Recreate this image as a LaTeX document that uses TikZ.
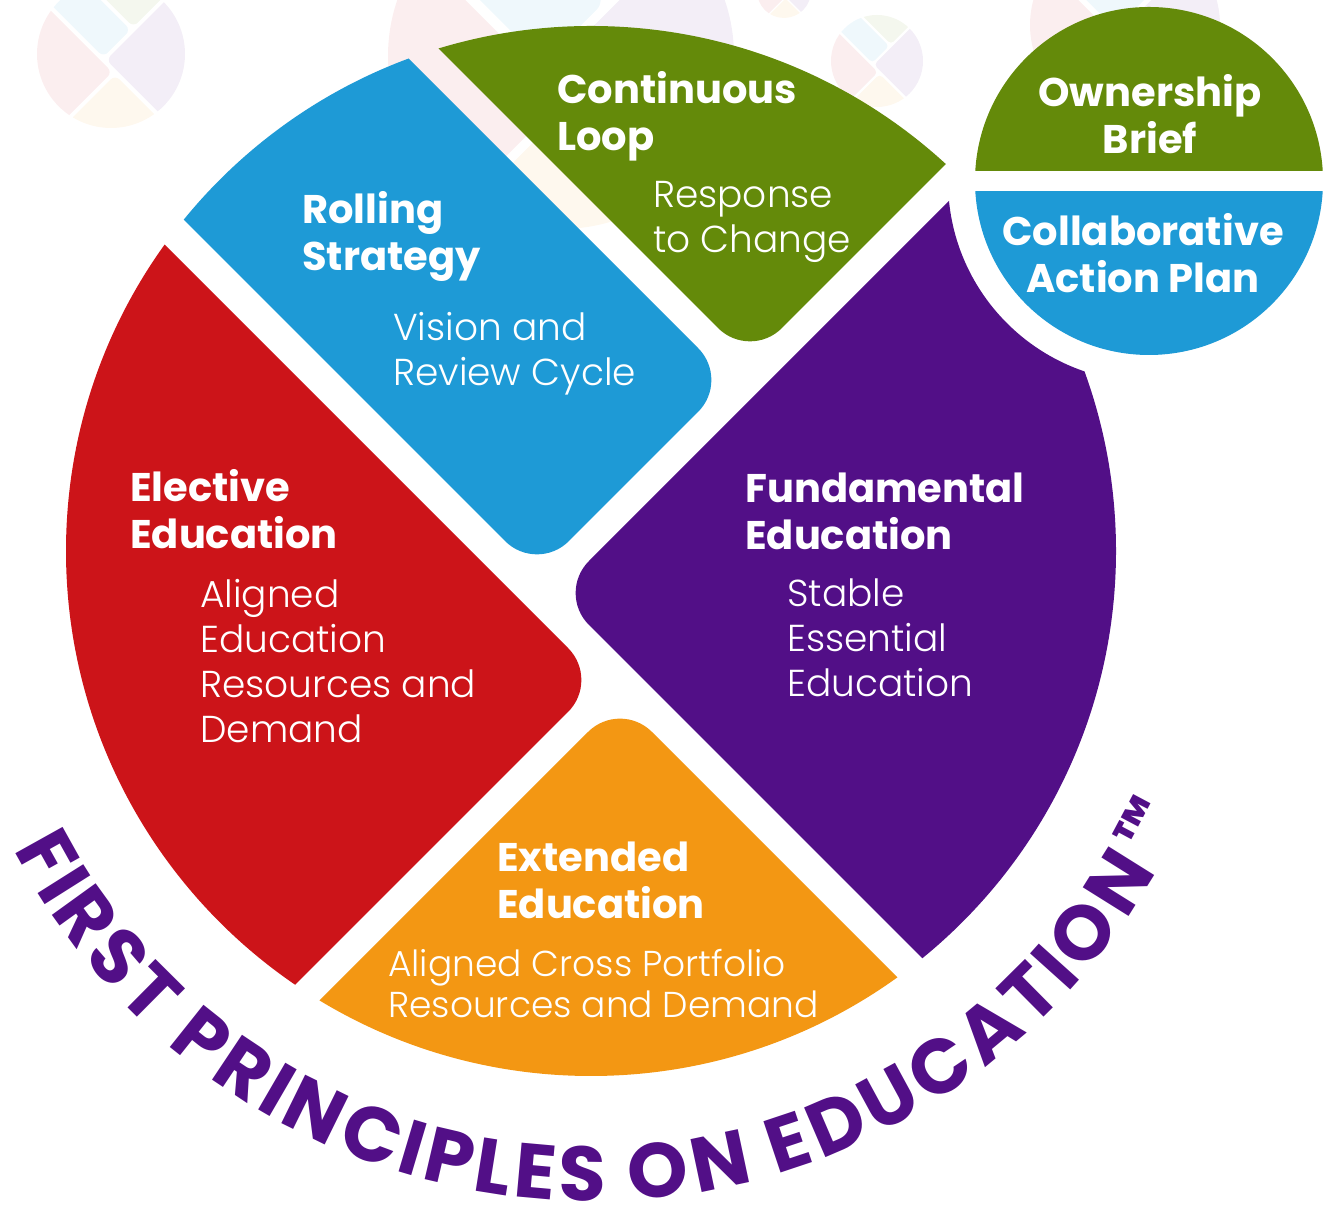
\documentclass[tikz,border=0pt]{standalone}
\usepackage{fontspec}
\setmainfont{Poppins}
\IfFontExistsTF{Poppins Light}{\newfontfamily\lightfont{Poppins Light}}{\newfontfamily\lightfont{Poppins}}
\usetikzlibrary{decorations.text}

\definecolor{electRed}{HTML}{CC1419}
\definecolor{rollBlue}{HTML}{1E9AD6}
\definecolor{loopGreen}{HTML}{648A0A}
\definecolor{fundPurple}{HTML}{520F87}
\definecolor{extOrange}{HTML}{F39713}

\newcommand\ringfont{\bfseries\fontsize{77}{77}\selectfont}

% the five pieces of the wheel, centre at (0,0), radius 525
\newcommand\wheel[1]{%
  \begin{scope}[rounded corners=#1]
    \clip (0,0) circle (525);
    \fill[electRed] (-991,871) -- (9,-129) -- (-991,-1129) -- (-1991,-129) -- cycle;
    \fill[extOrange] (-971,-1149) -- (29,-149) -- (1029,-1149) -- (29,-2149) -- cycle;
    \fill[fundPurple] (966,958) -- (-34,-42) -- (966,-1042) -- (1966,-42) -- cycle;
    \fill[rollBlue] (-1054,978) -- (-54,-22) -- (139,171) -- (-861,1171) -- cycle;
    \fill[loopGreen] (-841,1191) -- (159,191) -- (1159,1191) -- (159,2191) -- cycle;
  \end{scope}}

\begin{document}
\begin{tikzpicture}
[x=1pt,y=1pt,%
  head/.style={font=\bfseries\fontsize{40}{47}\selectfont,text=white,align=left,inner sep=0pt,anchor=west},%
  sub/.style={font=\lightfont\fontsize{37.5}{45}\selectfont,text=white,align=left,inner sep=0pt,anchor=west}]
\useasboundingbox (0,0) rectangle (1333,1206);
\coordinate (hub) at (591,655);
%%
\foreach \cx/\cy/\r in {111/1152/74, 561/1150/173, 877/1145/46, 784/1215/27, 1125/1181/95}
{
  \pgfmathsetmacro\s{\r/525}
  \pgfmathsetmacro\rc{45*\r/525}
  \begin{scope}[shift={(\cx,\cy)},scale=\s,opacity=0.07]
    \wheel{\rc pt}
  \end{scope}
}
%%
\begin{scope}[shift={(hub)},even odd rule]
  \clip (-700,-700) rectangle (1000,1000) (558,370) circle (201);
  \wheel{45pt}
\end{scope}
%%
\begin{scope}
  \clip (1149,1025) circle (174);
  \fill[loopGreen] (960,1035) rectangle (1340,1210);
  \fill[rollBlue] (960,1015) rectangle (1340,840);
\end{scope}
%%
\node[head] (rollT) at (302,970) {Rolling\\Strategy};
\node[sub] (rollS) at (393,852) {Vision and\\Review Cycle};
\node[head] (loopT) at (557,1090) {Continuous\\Loop};
\node[sub] (loopS) at (653,984) {Response\\to Change};
\node[head] (electT) at (130,697) {Elective\\Education};
\node[sub] (electS) at (200,545) {Aligned\\Education\\Resources and\\Demand};
\node[head] (fundT) at (745,695) {Fundamental\\Education};
\node[sub] (fundS) at (787,568) {Stable\\Essential\\Education};
\node[head] (extT) at (497,326) {Extended\\Education};
\node[sub,font=\lightfont\fontsize{36}{41}\selectfont] (extS) at (388,222) {Aligned Cross Portfolio\\Resources and Demand};
\node[head,align=center,anchor=center] (ownT) at (1150,1092) {Ownership\\Brief};
\node[head,align=center,anchor=center] (planT) at (1143,953) {Collaborative\\Action Plan};
%%
\path[decorate,decoration={text effects along path,
    text={FIRST PRINCIPLES ON EDUCATION},
    text effects/.cd,text along path,fit text to path,
    characters={text=fundPurple,font=\ringfont}}]
  (hub) ++(207.3:650) arc[start angle=207.3,end angle=330.5,radius=650];
\node[font=\bfseries\fontsize{56}{56}\selectfont,text=fundPurple,rotate=62] (tm) at (1141,383) {™};
\end{tikzpicture}
\end{document}
